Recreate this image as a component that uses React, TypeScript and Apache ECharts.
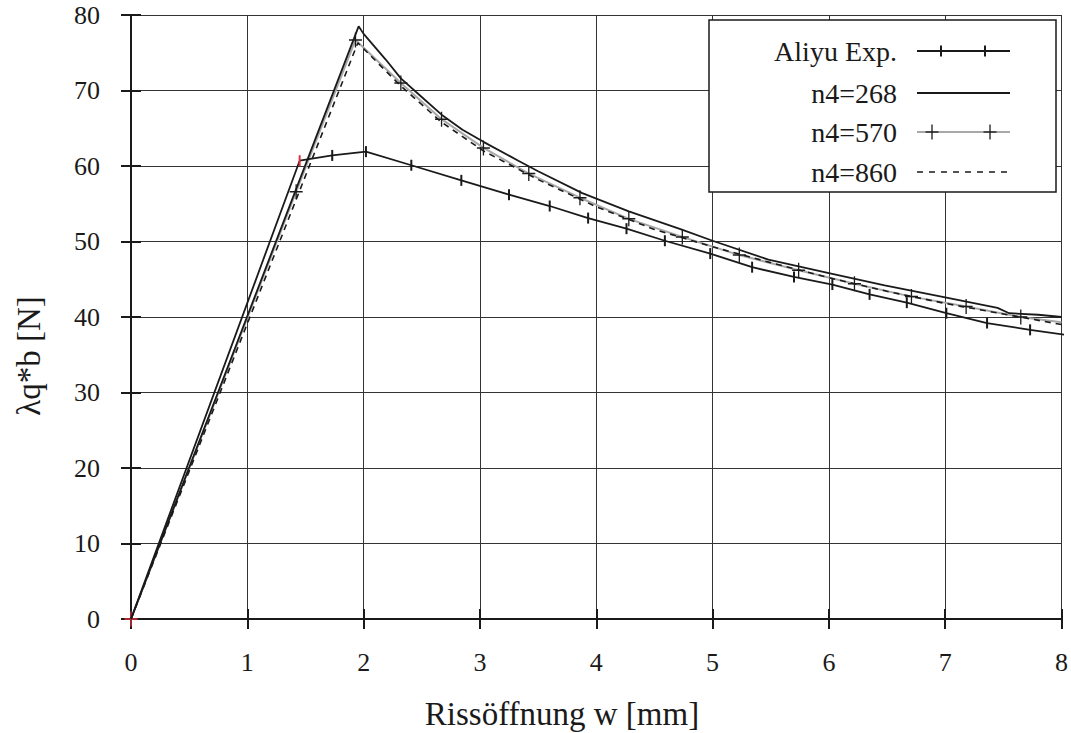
import React, { useEffect, useRef } from "react";
import * as echarts from "echarts";

// Aliyu Exp. (experiment)
const aliyuX = [0, 1.45, 1.73, 2.02, 2.41, 2.84, 3.25, 3.6, 3.93, 4.26, 4.59, 4.98, 5.34, 5.7, 6.03, 6.35, 6.67, 7.01, 7.36, 7.73, 8.05];
const aliyuY = [0, 60.7, 61.4, 61.9, 60.1, 58.1, 56.2, 54.7, 53.1, 51.7, 50.1, 48.4, 46.6, 45.3, 44.3, 43.0, 41.9, 40.5, 39.2, 38.3, 37.6];

// n4=268
const n268X = [0, 1.957, 2.0, 2.19, 2.32, 2.48, 2.67, 2.85, 3.03, 3.33, 3.5, 3.88, 4.28, 4.73, 5.0, 5.48, 6.0, 6.48, 7.0, 7.45, 7.55, 7.8, 8.0];
const n268Y = [0, 78.5, 77.5, 74.1, 71.6, 69.4, 66.8, 64.8, 63.2, 60.7, 59.3, 56.4, 54.0, 51.6, 50.1, 47.6, 45.8, 44.2, 42.6, 41.2, 40.5, 40.3, 40.0];

// n4=570
const n570X = [0, 1.42, 1.93, 2.32, 2.67, 3.03, 3.42, 3.86, 4.28, 4.74, 5.23, 5.74, 6.22, 6.71, 7.18, 7.65, 8.0];
const n570Y = [0, 56.6, 76.7, 71.0, 66.2, 62.4, 59.0, 55.8, 53.0, 50.6, 48.2, 46.2, 44.4, 42.7, 41.4, 40.0, 39.3];

// n4=860
const n860X = [0, 1.95, 2.32, 2.67, 3.03, 3.5, 4.0, 4.5, 5.0, 5.5, 6.0, 6.5, 7.0, 7.5, 8.0];
const n860Y = [0, 76.3, 70.6, 65.8, 62.0, 58.2, 54.6, 51.6, 49.3, 47.2, 45.2, 43.4, 41.8, 40.4, 39.0];

const seriesNames = ["Aliyu Exp.", "n4=268", "n4=570", "n4=860"];
const xAxisTitle = "Rissöffnung w [mm]";
const yAxisTitle = "λq*b [N]";
const xTickMin = 0, xTickMax = 8, xTickStep = 1;
const yTickMin = 0, yTickMax = 80, yTickStep = 10;

const FONT = "Liberation Serif, DejaVu Serif, Times New Roman, Times, serif";
const PLUS = "path://M5.4,0H6.6V5.4H12V6.6H6.6V12H5.4V6.6H0V5.4H5.4Z";
const INK = "#1a1a1a";
const GREY = "#a8a8a8";
const RED = "#e0303a";

export default function App() {
  const ref = useRef<HTMLDivElement>(null);
  useEffect(() => {
    const chart = echarts.init(ref.current!, null, { renderer: "svg" });

    const aliyuData = aliyuX.map((x, i) => {
      const item: any = { value: [x, aliyuY[i]] };
      if (i === 0 || i === aliyuX.length - 1) item.symbol = "none";
      if (i === 1) item.itemStyle = { color: RED };
      return item;
    });
    const n268Data = n268X.map((x, i) => [x, n268Y[i]]);
    const n570Data = n570X.map((x, i) => {
      const item: any = { value: [x, n570Y[i]] };
      if (i === n570X.length - 1) item.symbol = "none";
      if (i === 0) item.itemStyle = { color: RED };
      return item;
    });
    const n860Data = n860X.map((x, i) => [x, n860Y[i]]);

    const baseX = { type: "value", min: xTickMin, max: xTickMax, interval: xTickStep };
    const baseY = { type: "value", min: yTickMin, max: yTickMax, interval: yTickStep };
    const lineAxis = { show: true, lineStyle: { color: INK, width: 2 } };
    const tick = { show: true, inside: true, length: 10, lineStyle: { color: INK, width: 2 } };

    const rows = [51, 93, 132, 172];
    const lx1 = 917, lx2 = 1010, tx = 897;
    const legendTexts = seriesNames.map((n, i) => ({
      type: "text",
      z: 101,
      style: {
        text: n,
        x: tx,
        y: rows[i],
        align: "right",
        verticalAlign: "middle",
        fontSize: 28,
        fontFamily: FONT,
        fill: INK,
      },
    }));
    const plusGlyph = (cx: number, cy: number) => [
      { type: "line", z: 102, shape: { x1: cx - 6.5, y1: cy, x2: cx + 6.5, y2: cy }, style: { stroke: INK, lineWidth: 1.3 } },
      { type: "line", z: 102, shape: { x1: cx, y1: cy - 7.5, x2: cx, y2: cy + 7.5 }, style: { stroke: INK, lineWidth: 1.3 } },
    ];

    chart.setOption({
      animation: false,
      backgroundColor: "#fff",
      textStyle: { fontFamily: FONT },
      grid: { left: 131, right: 9, top: 15, bottom: 114, containLabel: false },
      xAxis: [
        {
          ...baseX,
          position: "bottom",
          axisLine: lineAxis,
          axisTick: tick,
          axisLabel: { margin: 30, fontSize: 26, fontFamily: FONT, color: INK },
          splitLine: { show: true, lineStyle: { color: "#333", width: 1 } },
        },
        {
          ...baseX,
          position: "top",
          axisLine: lineAxis,
          axisTick: tick,
          axisLabel: { show: false },
          splitLine: { show: false },
        },
      ],
      yAxis: [
        {
          ...baseY,
          position: "left",
          axisLine: lineAxis,
          axisTick: tick,
          axisLabel: { margin: 31, fontSize: 26, fontFamily: FONT, color: INK, padding: [8, 0, 0, 0] },
          splitLine: { show: true, lineStyle: { color: "#333", width: 1 } },
        },
        {
          ...baseY,
          position: "right",
          axisLine: lineAxis,
          axisTick: tick,
          axisLabel: { show: false },
          splitLine: { show: false },
        },
      ],
      series: [
        {
          name: seriesNames[0],
          type: "line",
          data: aliyuData,
          symbol: "rect",
          symbolSize: [2, 11],
          showSymbol: true,
          itemStyle: { color: INK },
          lineStyle: { color: INK, width: 1.8 },
          z: 3,
        },
        {
          name: seriesNames[2],
          type: "line",
          data: n570Data,
          symbol: PLUS,
          symbolSize: [13, 15],
          showSymbol: true,
          itemStyle: { color: INK },
          lineStyle: { color: GREY, width: 2 },
          z: 2,
        },
        {
          name: seriesNames[3],
          type: "line",
          data: n860Data,
          showSymbol: false,
          symbol: "none",
          lineStyle: { color: INK, width: 1.6, type: [6, 5] },
          z: 4,
        },
        {
          name: seriesNames[1],
          type: "line",
          data: n268Data,
          showSymbol: false,
          symbol: "none",
          lineStyle: { color: INK, width: 1.8 },
          z: 5,
        },
      ],
      graphic: [
        {
          type: "text",
          z: 50,
          style: {
            text: xAxisTitle,
            x: 562,
            y: 714,
            align: "center",
            verticalAlign: "middle",
            fontSize: 33,
            fontFamily: FONT,
            fill: INK,
          },
        },
        {
          type: "text",
          z: 50,
          x: 29,
          y: 356,
          rotation: Math.PI / 2,
          style: {
            text: yAxisTitle,
            x: 0,
            y: 0,
            align: "center",
            verticalAlign: "middle",
            fontSize: 33,
            fontFamily: FONT,
            fill: INK,
          },
        },
        {
          type: "rect",
          z: 100,
          shape: { x: 709, y: 20, width: 347, height: 172 },
          style: { fill: "#fff", stroke: INK, lineWidth: 1.5 },
        },
        ...legendTexts,
        { type: "line", z: 101, shape: { x1: lx1, y1: rows[0], x2: lx2, y2: rows[0] }, style: { stroke: INK, lineWidth: 1.8 } },
        { type: "rect", z: 102, shape: { x: 940, y: rows[0] - 5.5, width: 2, height: 11 }, style: { fill: INK } },
        { type: "rect", z: 102, shape: { x: 984, y: rows[0] - 5.5, width: 2, height: 11 }, style: { fill: INK } },
        { type: "line", z: 101, shape: { x1: lx1, y1: rows[1], x2: lx2, y2: rows[1] }, style: { stroke: INK, lineWidth: 1.8 } },
        { type: "line", z: 101, shape: { x1: lx1, y1: rows[2], x2: lx2, y2: rows[2] }, style: { stroke: GREY, lineWidth: 2 } },
        ...plusGlyph(932, rows[2]),
        ...plusGlyph(990, rows[2]),
        { type: "line", z: 101, shape: { x1: lx1, y1: rows[3], x2: lx2, y2: rows[3] }, style: { stroke: INK, lineWidth: 1.6, lineDash: [6, 6] } },
      ],
    });
    return () => chart.dispose();
  }, []);
  return (
    <div
      ref={ref}
      style={{ position: "absolute", left: 0, top: 0, width: 1071, height: 733 }}
    />
  );
}
